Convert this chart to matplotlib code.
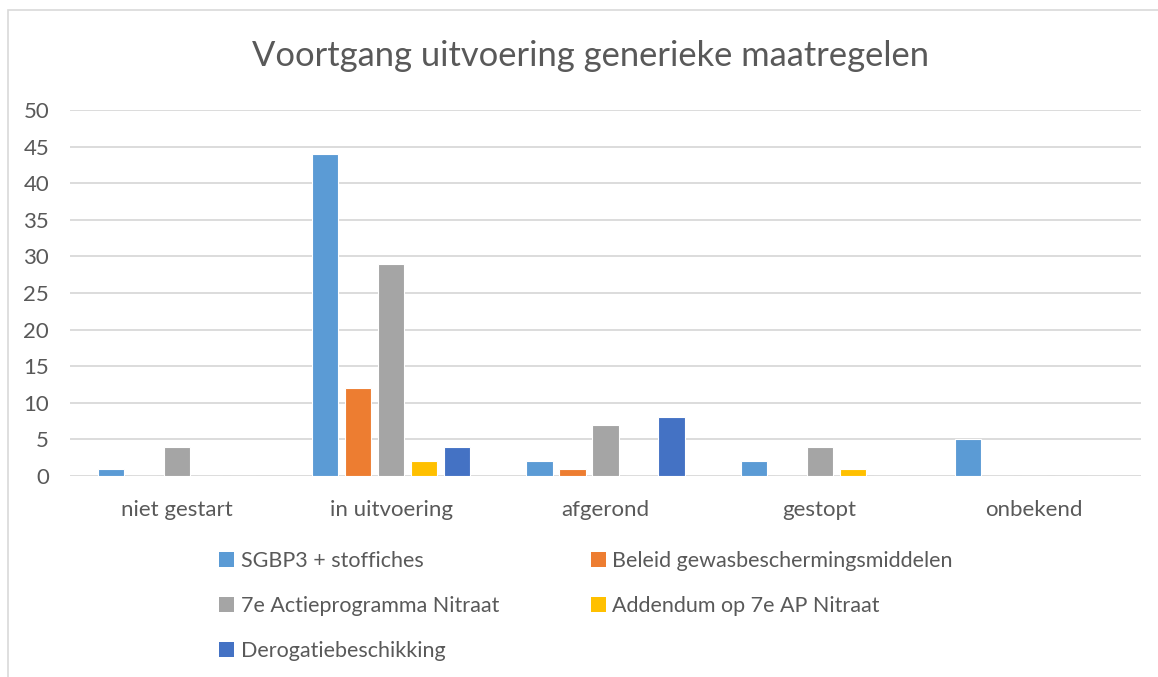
import numpy as np
import matplotlib
matplotlib.use("Agg")
import matplotlib.pyplot as plt
from matplotlib.patches import Rectangle, Patch

plt.rcParams['font.family'] = ['Lato', 'DejaVu Sans']

categories = ["niet gestart", "in uitvoering", "afgerond", "gestopt", "onbekend"]
series_names = ["SGBP3 + stoffiches", "Beleid gewasbeschermingsmiddelen",
                "7e Actieprogramma Nitraat", "Addendum op 7e AP Nitraat",
                "Derogatiebeschikking"]
sgbp3 = [1, 44, 2, 2, 5]
beleid = [0, 12, 1, 0, 0]
actie7 = [4, 29, 7, 4, 0]
addendum = [0, 2, 0, 1, 0]
derogatie = [0, 4, 8, 0, 0]
colors = ["#5B9BD5", "#ED7D31", "#A5A5A5", "#FFC000", "#4472C4"]

text_col = "#595959"
grid_col = "#D9D9D9"

fig = plt.figure(figsize=(11.58, 6.77), dpi=100)
# chart border like excel
fig.patches.append(Rectangle((8 / 1158, -0.01), 1.2, 1 - 10 / 677 + 0.01,
                             transform=fig.transFigure, fill=False,
                             edgecolor=grid_col, linewidth=1.2))

ax = fig.add_axes([70 / 1158, 1 - 476 / 677, (1141 - 70) / 1158, (476 - 110) / 677])

x = np.arange(len(categories))
pitch = 0.154
width = 0.122
all_series = [sgbp3, beleid, actie7, addendum, derogatie]
for i, vals in enumerate(all_series):
    v = np.array(vals, dtype=float)
    ax.bar(x + (i - 2) * pitch, v, width, color=colors[i], edgecolor="white",
           linewidth=0.8, zorder=3)

ax.set_xlim(-0.5, len(categories) - 0.5)
ax.set_ylim(0, 50)
ax.set_yticks(np.arange(0, 51, 5))
ax.yaxis.grid(True, color=grid_col, linewidth=1.3, zorder=0)
ax.set_xticks(x)
ax.set_xticklabels(categories)
ax.tick_params(axis='both', length=0, colors=text_col, labelsize=16)
ax.tick_params(axis='x', pad=17)
ax.tick_params(axis='y', pad=15)
for s in ax.spines.values():
    s.set_visible(False)

fig.text(590 / 1158, 1 - 56 / 677, "Voortgang uitvoering generieke maatregelen",
         ha='center', va='center', fontsize=24.8, color=text_col)

handles = [Patch(facecolor=c) for c in colors]
order = [0, 2, 4, 1, 3]
leg = fig.legend([handles[k] for k in order], [series_names[k] for k in order],
                 ncol=2, loc='upper left', bbox_to_anchor=(200 / 1158, 1 - 532 / 677),
                 frameon=False, fontsize=15.5, labelcolor=text_col,
                 handlelength=0.7, handleheight=0.7, handletextpad=0.3,
                 columnspacing=4.25, labelspacing=1.15)

fig.savefig("out.png", dpi=100)
